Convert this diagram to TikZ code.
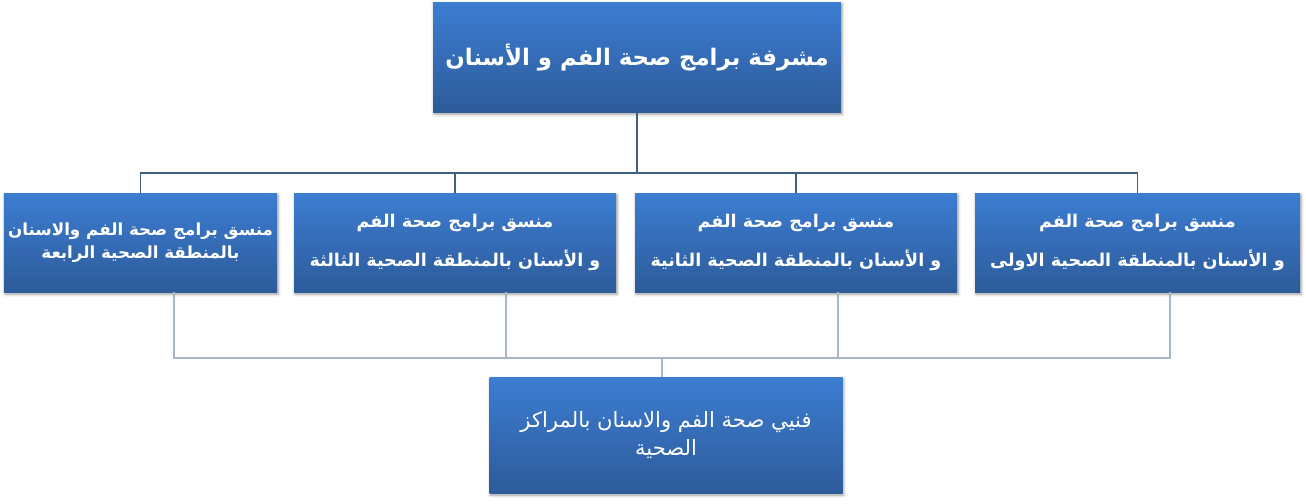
\documentclass[tikz,border=0pt]{standalone}
\usepackage{fontspec}
\newfontfamily\arabicfont[Script=Arabic]{DejaVu Sans}
\TeXXeTstate=1
\usetikzlibrary{calc, shadows.blur}
\definecolor{boxtop}{HTML}{3C7DD2}
\definecolor{boxbot}{HTML}{2D5B9A}
\definecolor{linedark}{HTML}{3F5F85}
\definecolor{linelight}{HTML}{A7B6CB}
\tikzset{
  orgbox/.style={rectangle, top color=boxtop, bottom color=boxbot, draw=none,
    text=white, align=center, inner sep=2pt, font=\arabicfont\bfseries\fontsize{10}{22}\selectfont,
    blur shadow={shadow xshift=0.6pt, shadow yshift=-1.2pt, shadow blur steps=4}},
  toplink/.style={draw=linedark, line width=0.9pt},
  lowlink/.style={draw=linelight, line width=1.2pt}
}
\newcommand{\rtl}[1]{\beginR #1\endR}
\begin{document}
\begin{tikzpicture}
\useasboundingbox (0,0) rectangle (26.12,10.06);

% boxes
\node[orgbox, minimum width=8.16cm, minimum height=2.2cm,
  font=\arabicfont\bfseries\fontsize{13}{18}\selectfont] (head) at (12.74,8.92)
  {\rtl{مشرفة برامج صحة الفم و الأسنان}};

\node[orgbox, minimum width=6.5cm, minimum height=1.98cm] (zone1) at (22.75,5.21)
  {\rtl{منسق برامج صحة الفم}\\ \rtl{و الأسنان بالمنطقة الصحية الاولى}};
\node[orgbox, minimum width=6.44cm, minimum height=1.98cm] (zone2) at (15.92,5.21)
  {\rtl{منسق برامج صحة الفم}\\ \rtl{و الأسنان بالمنطقة الصحية الثانية}};
\node[orgbox, minimum width=6.44cm, minimum height=1.98cm] (zone3) at (9.10,5.21)
  {\rtl{منسق برامج صحة الفم}\\ \rtl{و الأسنان بالمنطقة الصحية الثالثة}};
\node[orgbox, minimum width=5.46cm, minimum height=1.98cm,
  font=\arabicfont\bfseries\fontsize{9.5}{13}\selectfont] (zone4) at (2.81,5.21)
  {\rtl{منسق برامج صحة الفم والاسنان}\\ \rtl{بالمنطقة الصحية الرابعة}};

\node[orgbox, minimum width=7.06cm, minimum height=2.32cm,
  font=\arabicfont\fontsize{12}{16}\selectfont] (tech) at (13.32,1.36)
  {\rtl{فنيي صحة الفم والاسنان بالمراكز}\\ \rtl{الصحية}};

% upper links
\coordinate (bus) at (12.74,6.6);
\draw[toplink] (head.south) -- (bus);
\foreach \z in {zone1,zone2,zone3,zone4}
  \draw[toplink] (\z.north) |- (bus);

% lower links
\coordinate (lowbus) at (13.24,2.9);
\draw[lowlink] ($(zone4.south)+(0.67,0)$) |- (lowbus);
\draw[lowlink] ($(zone3.south)+(1.02,0)$) |- (lowbus);
\draw[lowlink] ($(zone2.south)+(0.84,0)$) |- (lowbus);
\draw[lowlink] ($(zone1.south)+(0.65,0)$) |- (lowbus);
\draw[lowlink] (lowbus) -- ($(tech.north)+(-0.08,0)$);
\end{tikzpicture}
\end{document}
